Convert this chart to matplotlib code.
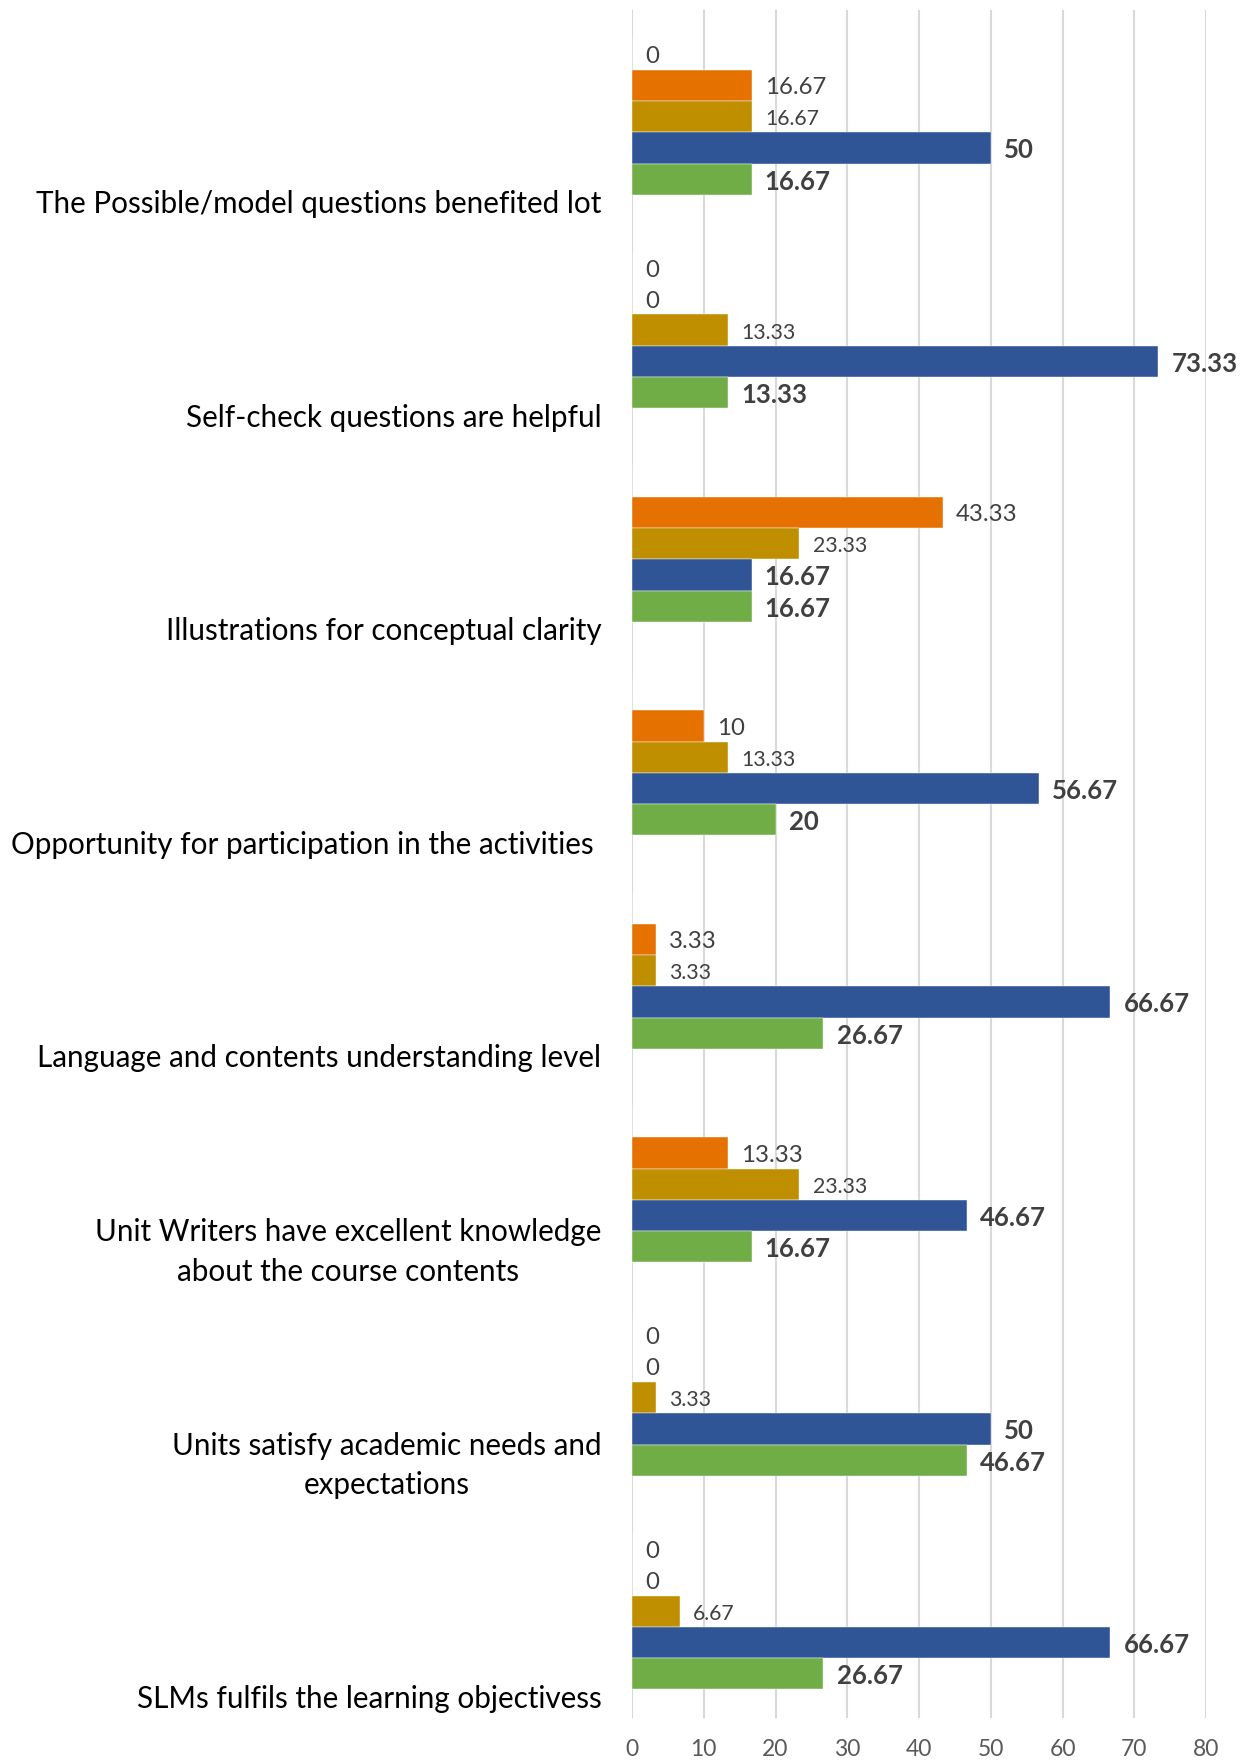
import matplotlib.pyplot as plt
import numpy as np

plt.rcParams['font.family'] = ['Lato', 'DejaVu Sans']

categories = [
    'The Possible/model questions benefited lot',
    'Self-check questions are helpful',
    'Illustrations for conceptual clarity',
    'Opportunity for participation in the activities ',
    'Language and contents understanding level',
    'Unit Writers have excellent knowledge\nabout the course contents',
    'Units satisfy academic needs and\nexpectations',
    'SLMs fulfils the learning objectivess',
]

# five series per category, listed top to bottom inside each group
series_1 = [0, 0, np.nan, np.nan, np.nan, np.nan, 0, 0]
series_2 = [16.67, 0, 43.33, 10, 3.33, 13.33, 0, 0]
series_3 = [16.67, 13.33, 23.33, 13.33, 3.33, 23.33, 3.33, 6.67]
series_4 = [50, 73.33, 16.67, 56.67, 66.67, 46.67, 50, 66.67]
series_5 = [16.67, 13.33, 16.67, 20, 26.67, 16.67, 46.67, 26.67]

all_series = [series_1, series_2, series_3, series_4, series_5]
colors = ['#4472C4', '#E57200', '#BF8F00', '#2F5597', '#70AD47']
label_size = [17.3, 17.3, 15.3, 18.5, 18.5]
label_weight = ['normal', 'normal', 'normal', 'bold', 'bold']

fig = plt.figure(figsize=(12.52, 17.62), dpi=100)
ax = fig.add_axes([0.5048, 0.025, 0.4585, 0.9694])

y = np.arange(len(categories))
h = 0.1466

for j, vals in enumerate(all_series):
    vals = np.array(vals, dtype=float)
    ypos = y + (j - 2) * h
    ax.barh(ypos, np.nan_to_num(vals), height=h,
            color=colors[j], edgecolor='white', linewidth=0.3)
    for v, yy in zip(vals, ypos):
        if np.isnan(v):
            continue
        ax.annotate(f'{v:g}', xy=(v, yy), xytext=(9.5, -1.8),
                    textcoords='offset points', ha='left', va='center',
                    fontsize=label_size[j], fontweight=label_weight[j],
                    color='#404040')

for i, cat in enumerate(categories):
    ax.annotate(cat, xy=(0, i + 0.475), xycoords=ax.get_yaxis_transform(),
                xytext=(-22, 0), textcoords='offset points',
                ha='right', va='bottom', multialignment='center',
                fontsize=21.3, color='black', linespacing=1.5)

ax.set_xlim(0, 80)
ax.set_xticks(range(0, 81, 10))
ax.set_ylim(len(categories) - 0.5, -0.5)
ax.set_yticks([])
ax.tick_params(axis='x', length=0, pad=15, labelsize=16.5, labelcolor='#595959')
ax.xaxis.grid(True, color='#D9D9D9', linewidth=1.5)
ax.set_axisbelow(True)
for s in ax.spines.values():
    s.set_visible(False)

fig.savefig('out.png', dpi=100)
